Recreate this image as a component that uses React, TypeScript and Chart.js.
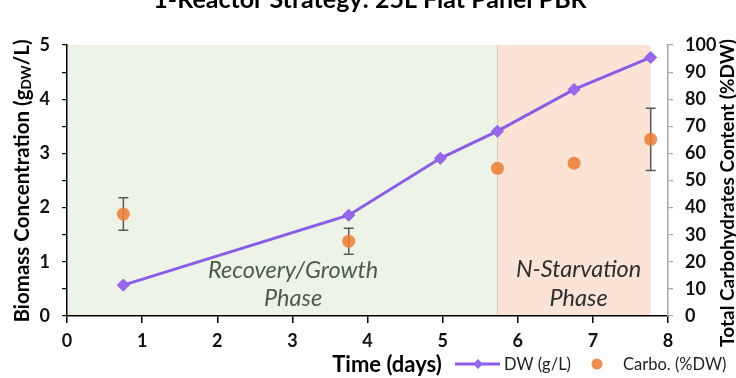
import React, { useEffect, useRef } from "react";
import { Chart, registerables } from "chart.js";

Chart.register(...registerables);

// ---- data ----
const dwDays = [0.75, 3.75, 4.97, 5.73, 6.75, 7.77];
const dwValues = [0.57, 1.86, 2.91, 3.41, 4.18, 4.77];
const carboDays = [0.75, 3.75, 5.73, 6.75, 7.77];
const carboValues = [37.6, 27.6, 54.5, 56.4, 65.2];
const carboErrors = [6, 4.8, 0, 0, 11.5];
const phaseStarts = [0, 5.73];
const phaseEnds = [5.73, 7.77];
const phaseLabels = [["Recovery/Growth", "Phase"], ["N-Starvation", "Phase"]];
const titleText = "1-Reactor Strategy: 25L Flat Panel PBR";
const xTitle = "Time (days)";
const yTitleMain = "Biomass Concentration (g";
const yTitleSub = "DW";
const yTitleEnd = "/L)";
const y1Title = "Total Carbohydrates Content (%DW)";
const seriesNames = ["DW (g/L)", "Carbo. (%DW)"];

// ---- styles ----
const FONT = "Lato, 'Open Sans', sans-serif";
const PURPLE = "#8A5CE8";
const PURPLE_PT = "#9966EE";
const ORANGE = "rgba(237,125,49,0.85)";
const phaseFills = ["rgb(237,243,231)", "rgb(251,228,214)"];
const phaseTextColors = ["#4d5b4d", "#2e2e2e"];
const phaseLabelAt = [
  { x: 3.01, y: [0.85, 0.33] },
  { x: 6.81, y: [0.86, 0.33] },
];

const backgroundPlugin = {
  id: "phaseBackground",
  beforeDraw(chart: any) {
    const { ctx, chartArea, scales } = chart;
    const x = scales.x;
    const y = scales.y;
    ctx.save();
    phaseStarts.forEach((s, i) => {
      const x0 = x.getPixelForValue(s);
      const x1 = x.getPixelForValue(phaseEnds[i]);
      ctx.fillStyle = phaseFills[i];
      ctx.fillRect(x0, chartArea.top, x1 - x0, chartArea.bottom - chartArea.top);
    });
    const xb = x.getPixelForValue(phaseStarts[1]);
    ctx.strokeStyle = "rgba(190,190,150,0.6)";
    ctx.lineWidth = 1;
    ctx.beginPath();
    ctx.moveTo(xb, chartArea.top);
    ctx.lineTo(xb, chartArea.bottom);
    ctx.stroke();
    ctx.font = `italic 23.5px ${FONT}`;
    ctx.textAlign = "center";
    ctx.textBaseline = "middle";
    phaseLabels.forEach((lines, i) => {
      ctx.fillStyle = phaseTextColors[i];
      lines.forEach((t, j) => {
        ctx.fillText(t, x.getPixelForValue(phaseLabelAt[i].x), y.getPixelForValue(phaseLabelAt[i].y[j]));
      });
    });
    ctx.restore();
  },
};

const errorBarPlugin = {
  id: "errorBars",
  beforeDatasetsDraw(chart: any) {
    const { ctx, scales } = chart;
    const x = scales.x;
    const y1 = scales.y1;
    ctx.save();
    ctx.strokeStyle = "#595959";
    ctx.lineWidth = 1.5;
    carboDays.forEach((d, i) => {
      const e = carboErrors[i];
      if (!e) return;
      const px = x.getPixelForValue(d);
      const top = y1.getPixelForValue(carboValues[i] + e);
      const bot = y1.getPixelForValue(carboValues[i] - e);
      ctx.beginPath();
      ctx.moveTo(px, top);
      ctx.lineTo(px, bot);
      ctx.moveTo(px - 5, top);
      ctx.lineTo(px + 5, top);
      ctx.moveTo(px - 5, bot);
      ctx.lineTo(px + 5, bot);
      ctx.stroke();
    });
    ctx.restore();
  },
};

const textPlugin = {
  id: "texts",
  afterDraw(chart: any) {
    const { ctx, chartArea } = chart;
    ctx.save();
    ctx.fillStyle = "#000";
    // main title (cropped at top)
    ctx.font = `bold 25px ${FONT}`;
    ctx.textAlign = "center";
    ctx.textBaseline = "alphabetic";
    ctx.fillText(titleText, 370, 8);

    // left axis title with subscript
    ctx.save();
    ctx.translate(22, 181);
    ctx.rotate(-Math.PI / 2);
    const mainFont = `bold 20.5px ${FONT}`;
    const subFont = `bold 13.5px ${FONT}`;
    ctx.font = mainFont;
    const w1 = ctx.measureText(yTitleMain).width;
    const w3 = ctx.measureText(yTitleEnd).width;
    ctx.font = subFont;
    const w2 = ctx.measureText(yTitleSub).width;
    let cx = -(w1 + w2 + w3) / 2;
    ctx.textAlign = "left";
    ctx.textBaseline = "middle";
    ctx.font = mainFont;
    ctx.fillText(yTitleMain, cx, 0);
    cx += w1;
    ctx.font = subFont;
    ctx.fillText(yTitleSub, cx, 5);
    cx += w2;
    ctx.font = mainFont;
    ctx.fillText(yTitleEnd, cx, 0);
    ctx.restore();

    // right axis title
    ctx.save();
    ctx.translate(728, 193);
    ctx.rotate(-Math.PI / 2);
    ctx.font = `bold 19px ${FONT}`;
    ctx.textAlign = "center";
    ctx.textBaseline = "middle";
    ctx.fillText(y1Title, 0, 0);
    ctx.restore();

    // x title
    const rowY = chartArea.bottom + 49;
    ctx.font = `bold 22px ${FONT}`;
    ctx.textAlign = "center";
    ctx.textBaseline = "middle";
    ctx.fillText(xTitle, 387, rowY);

    // legend
    ctx.strokeStyle = PURPLE;
    ctx.lineWidth = 3;
    ctx.beginPath();
    ctx.moveTo(455, rowY - 1);
    ctx.lineTo(500, rowY - 1);
    ctx.stroke();
    ctx.fillStyle = PURPLE_PT;
    ctx.beginPath();
    ctx.moveTo(478, rowY - 6);
    ctx.lineTo(483, rowY - 1);
    ctx.lineTo(478, rowY + 4);
    ctx.lineTo(473, rowY - 1);
    ctx.closePath();
    ctx.fill();
    ctx.fillStyle = "#222";
    ctx.font = `16.5px ${FONT}`;
    ctx.textAlign = "left";
    ctx.fillText(seriesNames[0], 504, rowY);
    ctx.fillStyle = ORANGE;
    ctx.beginPath();
    ctx.arc(597, rowY - 1, 5.5, 0, Math.PI * 2);
    ctx.fill();
    ctx.fillStyle = "#222";
    ctx.fillText(seriesNames[1], 623, rowY);
    ctx.restore();
  },
};

export default function App() {
  const ref = useRef<HTMLCanvasElement | null>(null);
  useEffect(() => {
    if (!ref.current) return;
    const tickFont = { family: FONT, weight: "bold" as const, size: 18 };
    const chart = new Chart(ref.current, {
      type: "scatter",
      data: {
        datasets: [
          {
            label: seriesNames[0],
            data: dwDays.map((d, i) => ({ x: d, y: dwValues[i] })),
            showLine: true,
            borderColor: PURPLE,
            borderWidth: 3,
            pointStyle: "rectRot",
            pointRadius: 6,
            pointBackgroundColor: PURPLE_PT,
            pointBorderColor: PURPLE,
            pointBorderWidth: 1,
            yAxisID: "y",
            order: 1,
          },
          {
            label: seriesNames[1],
            data: carboDays.map((d, i) => ({ x: d, y: carboValues[i] })),
            showLine: false,
            pointRadius: 6.5,
            pointBackgroundColor: ORANGE,
            pointBorderWidth: 0,
            yAxisID: "y1",
            order: 2,
          },
        ],
      },
      options: {
        animation: false,
        responsive: true,
        maintainAspectRatio: false,
        layout: { padding: { top: 45, left: 0, right: 0, bottom: 0 } },
        plugins: { legend: { display: false }, tooltip: { enabled: false }, title: { display: false } },
        scales: {
          x: {
            type: "linear",
            min: 0,
            max: 8,
            position: "bottom",
            ticks: { stepSize: 1, color: "#111", font: tickFont, padding: 7 },
            grid: { drawOnChartArea: false, drawTicks: true, tickLength: 7, color: "#000", lineWidth: 1.5 },
            border: { color: "#000", width: 1.5 },
            afterFit: (s: any) => {
              s.height = 62;
            },
          },
          y: {
            type: "linear",
            position: "left",
            min: 0,
            max: 5,
            ticks: {
              stepSize: 0.5,
              autoSkip: false,
              color: "#111",
              font: tickFont,
              padding: 12,
              callback: (v: any) => (Number.isInteger(v) ? String(v) : ""),
            },
            grid: { drawOnChartArea: false, drawTicks: true, tickLength: 5, color: "#000", lineWidth: 1.2 },
            border: { color: "#000", width: 1.5 },
            afterFit: (s: any) => {
              s.width = 67;
            },
          },
          y1: {
            type: "linear",
            position: "right",
            min: 0,
            max: 100,
            ticks: { stepSize: 10, autoSkip: false, color: "#111", font: tickFont, padding: 12 },
            grid: { drawOnChartArea: false, drawTicks: true, tickLength: 5, color: "#a6a6a6", lineWidth: 1.2 },
            border: { color: "#a6a6a6", width: 1.5 },
            afterFit: (s: any) => {
              s.width = 68;
            },
          },
        },
      } as any,
      plugins: [backgroundPlugin, errorBarPlugin, textPlugin],
    });
    return () => chart.destroy();
  }, []);
  return (
    <div style={{ position: "absolute", left: 0, top: 0, width: 736, height: 378, background: "#fff" }}>
      <canvas ref={ref} />
    </div>
  );
}
